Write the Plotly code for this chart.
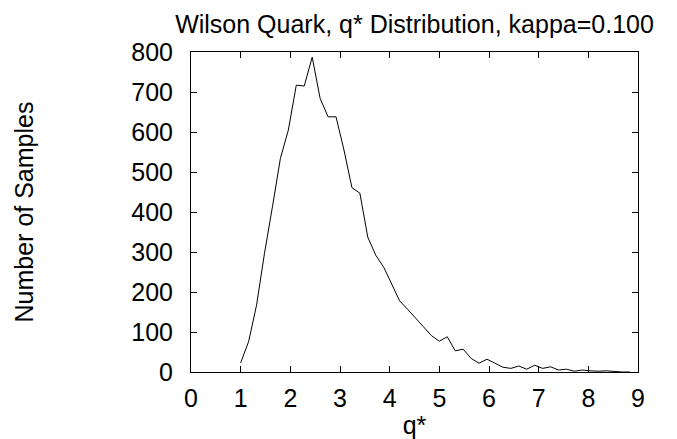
import plotly.graph_objects as go

# q* bin centres: 1.00, 1.16, ... (bin width 0.16)
q_start = 1.0
q_step = 0.16
counts = [23, 76, 167, 297, 413, 534, 605, 717, 715, 787,
          684, 638, 638, 555, 461, 447, 337, 292, 262, 222,
          178, 157, 136, 113, 91, 77, 88, 53, 57, 34,
          22, 32, 22, 12, 9, 15, 7, 17, 9, 13,
          5, 7, 2, 5, 3, 2, 3, 1, 0, 0]
q_values = [round(q_start + q_step * i, 2) for i in range(len(counts))]

x_ticks = [0, 1, 2, 3, 4, 5, 6, 7, 8, 9]
y_ticks = [0, 100, 200, 300, 400, 500, 600, 700, 800]

title_text = "Wilson Quark, q* Distribution, kappa=0.100"
x_label = "q*"
y_label = "Number of Samples"

FONT = "Liberation Sans, Arial, sans-serif"

fig = go.Figure()
fig.add_trace(go.Scatter(x=q_values, y=counts, mode="lines",
                         line=dict(color="black", width=1), showlegend=False))

axis_common = dict(showgrid=False, zeroline=False, showline=True, linecolor="black",
                   linewidth=1, ticks="inside", ticklen=6, tickcolor="black",
                   mirror="allticks", automargin=False,
                   tickfont=dict(family=FONT, size=25, color="black"))

fig.update_layout(
    width=677, height=439,
    margin=dict(l=190.5, r=39, t=52, b=67, autoexpand=False),
    paper_bgcolor="white", plot_bgcolor="white",
    title=dict(text=title_text, x=0.5, xref="paper", xanchor="center",
               y=1 - 24 / 439, yanchor="middle",
               font=dict(family=FONT, size=25, color="black")),
    xaxis=dict(range=[0, 9], tickvals=x_ticks, ticklabelstandoff=4,
               title=dict(text=x_label, standoff=5,
                          font=dict(family=FONT, size=25, color="black")),
               **axis_common),
    yaxis=dict(range=[0, 800], tickvals=y_ticks, ticklabelstandoff=12,
               title=dict(text=y_label, standoff=90,
                          font=dict(family=FONT, size=25, color="black")),
               **axis_common),
)

fig.write_html("out.html")
